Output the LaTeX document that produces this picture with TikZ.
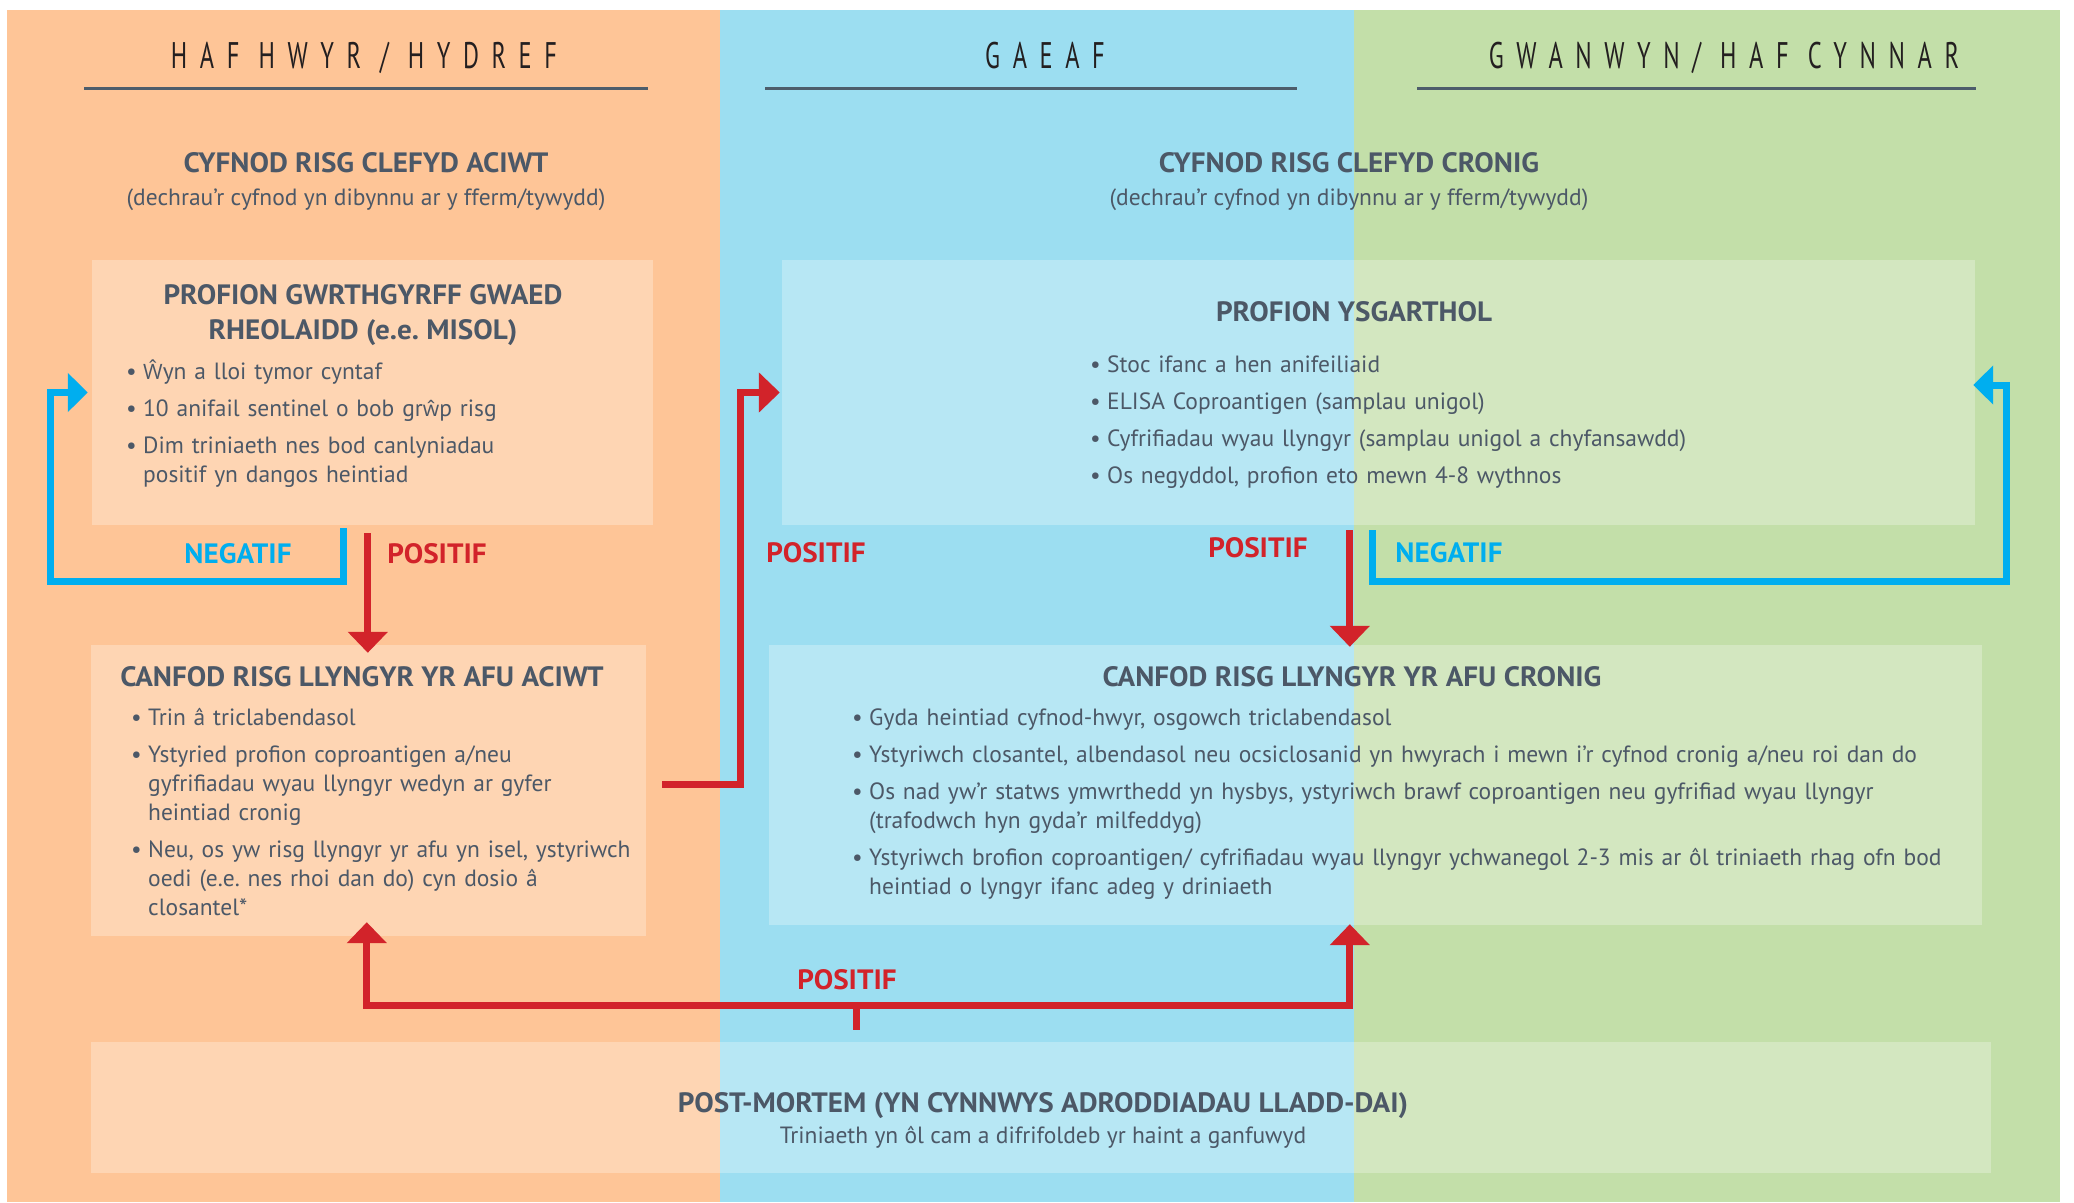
\documentclass[tikz,border=0pt]{standalone}
\usepackage{fontspec}
\usetikzlibrary{arrows.meta,calc}
\newfontfamily\bodyf{PT Sans}
\newfontfamily\wf{Open Sans}[Scale=0.9]
\newfontfamily\ttlf{PT Sans}[FakeStretch=1.04]
\newfontfamily\hdrf{PT Sans}[FakeStretch=0.66,LetterSpace=34]
\definecolor{orbg}{HTML}{FEC597}
\definecolor{blbg}{HTML}{9CDEF1}
\definecolor{grbg}{HTML}{C3DFA9}
\definecolor{txtc}{HTML}{4C5867}
\definecolor{hdrc}{HTML}{231F20}
\definecolor{linec}{HTML}{4D5D6B}
\definecolor{redc}{HTML}{D2232A}
\definecolor{bluec}{HTML}{00AEEF}
\newcommand\bl[1]{\hangindent=17pt\hangafter=1\makebox[17pt][l]{\textbullet}#1\par}
\newcommand\nl{\hfil\break}
\newcommand\blist{\frenchspacing\setlength{\parskip}{8pt}\raggedright}
\tikzset{
  txt/.style={text=txtc, inner sep=0pt, font=\bodyf\frenchspacing\fontsize{23.5}{29}\selectfont},
  lst/.style={txt, anchor=base west, text width=#1},
  ttl/.style={text=txtc, inner sep=0pt, align=center, anchor=base, font=\ttlf\bfseries\frenchspacing\fontsize{28}{35}\selectfont},
  sub/.style={txt, anchor=base},
  hdr/.style={text=hdrc, inner sep=0pt, anchor=base, font=\hdrf\fontsize{37}{40}\selectfont},
  lab/.style={inner sep=0pt, anchor=base, font=\ttlf\bfseries\fontsize{28}{30}\selectfont},
  panel/.style={fill=white, fill opacity=0.28, draw=none, inner sep=0pt},
  hline/.style={draw=linec, line width=3pt},
  redarr/.style={draw=redc, line width=7pt, -{Triangle[width=39pt,length=21pt]}},
  bluearr/.style={draw=bluec, line width=7pt, -{Triangle[width=38pt,length=20pt]}},
}
\begin{document}
\begin{tikzpicture}[x=1pt,y=-1pt]
\useasboundingbox (0,0) rectangle (2074,1202);
% seasonal columns
\fill[orbg] (7,10) rectangle (720,1202);
\fill[blbg] (720,10) rectangle (1354,1202);
\fill[grbg] (1354,10) rectangle (2060,1202);

% season headers
\node[hdr] (h1) at (364,68) {HAF HWYR / HYDREF};
\node[hdr] (h2) at (1045,68) {GAEAF};
\node[hdr] (h3) at (1724,68) {GWANWYN/ HAF CYNNAR};
\draw[hline] (84,88) -- (648,88);
\draw[hline] (765,88) -- (1297,88);
\draw[hline] (1417,88) -- (1976,88);

% period titles
\node[ttl] (p1) at (366,172) {CYFNOD RISG CLEFYD ACIWT};
\node[sub] (p1s) at (366,205) {(dechrau’r cyfnod yn dibynnu ar y fferm/tywydd)};
\node[ttl] (p2) at (1349,172) {CYFNOD RISG CLEFYD CRONIG};
\node[sub] (p2s) at (1349,205) {(dechrau’r cyfnod yn dibynnu ar y fferm/tywydd)};

% panels
\node[panel, minimum width=561pt, minimum height=265pt] (box1) at (372.5,392.5) {};
\node[panel, minimum width=1193pt, minimum height=265pt] (box2) at (1378.5,392.5) {};
\node[panel, minimum width=555pt, minimum height=291pt] (box3) at (368.5,790.5) {};
\node[panel, minimum width=1213pt, minimum height=280pt] (box4) at (1375.5,785) {};
\node[panel, minimum width=1900pt, minimum height=131pt] (box5) at (1041,1107.5) {};

% box 1
\node[ttl] (t1) at (363,339) {PROFION GWRTHGYRFF GWAED\\RHEOLAIDD (e.e. MISOL)};
\node[lst=520pt] (l1) at (126,379) {\blist%
\bl{{\wf Ŵ}yn a lloi tymor cyntaf}
\bl{10 anifail sentinel o bob gr{\wf ŵ}p risg}
\bl{Dim triniaeth nes bod canlyniadau\nl positif yn dangos heintiad}};

% box 2
\node[ttl] (t2) at (1354,321) {PROFION YSGARTHOL};
\node[lst=860pt] (l2) at (1090,372) {\blist%
\bl{Stoc ifanc a hen anifeiliaid}
\bl{ELISA Coproantigen (samplau unigol)}
\bl{Cyfrifiadau wyau llyngyr (samplau unigol a chyfansawdd)}
\bl{Os negyddol, profion eto mewn 4-8 wythnos}};

% box 3
\node[ttl] (t3) at (362,686) {CANFOD RISG LLYNGYR YR AFU ACIWT};
\node[lst=540pt] (l3) at (131,725) {\blist%
\bl{Trin â triclabendasol}
\bl{Ystyried profion coproantigen a/neu\nl gyfrifiadau wyau llyngyr wedyn ar gyfer\nl heintiad cronig}
\bl{Neu, os yw risg llyngyr yr afu yn isel, ystyriwch\nl oedi (e.e. nes rhoi dan do) cyn dosio â\nl closantel*}};

% box 4
\node[ttl] (t4) at (1352,686) {CANFOD RISG LLYNGYR YR AFU CRONIG};
\node[lst=1120pt] (l4) at (852,725) {\blist%
\bl{Gyda heintiad cyfnod-hwyr, osgowch triclabendasol}
\bl{Ystyriwch closantel, albendasol neu ocsiclosanid yn hwyrach i mewn i’r cyfnod cronig a/neu roi dan do}
\bl{Os nad yw’r statws ymwrthedd yn hysbys, ystyriwch brawf coproantigen neu gyfrifiad wyau llyngyr\nl (trafodwch hyn gyda’r milfeddyg)}
\bl{Ystyriwch brofion coproantigen/ cyfrifiadau wyau llyngyr ychwanegol 2-3 mis ar ôl triniaeth rhag ofn bod\nl heintiad o lyngyr ifanc adeg y driniaeth}};

% box 5
\node[ttl] (t5) at (1043,1112) {POST-MORTEM (YN CYNNWYS ADRODDIADAU LLADD-DAI)};
\node[sub] (t5s) at (1043,1143) {Triniaeth yn ôl cam a difrifoldeb yr haint a ganfuwyd};

% connectors
\draw[bluearr] ($(box1.south west)+(252,3)$) |- ($(box1.south west)+(-41,56)$) |- ($(box1.west)+(-4,0)$);
\draw[redarr] ($(box1.south west)+(276,8)$) -- ($(box3.north west)+(277,8)$);
\draw[redarr] ($(box3.east)+(16,-6.5)$) -| ($(box2.west)+(-41,0)$) -- ($(box2.west)+(-2,0)$);
\draw[redarr] ($(box2.south west)+(568,5)$) -- ($(box4.north west)+(581,2)$);
\draw[bluearr] ($(box2.south west)+(591,5)$) |- ($(box2.east)+(31,188.5)$) |- ($(box2.east)+(-2,-7.5)$);
\coordinate (junc) at ($(box5.north west)+(766,-36)$);
\draw[redc, line width=7pt] ($(box5.north west)+(766,-12)$) -- (junc);
\draw[redarr, {Triangle[width=39pt,length=21pt]}-{Triangle[width=39pt,length=21pt]}]
  ($(box3.south west)+(276,-14)$) |- ($(box5.north west)+(1259,-36)$) -- ($(box4.south west)+(581,-1)$);

% labels
\node[lab, text=bluec] (n1) at (238,563) {NEGATIF};
\node[lab, text=redc] (q1) at (437,563) {POSITIF};
\node[lab, text=redc] (q2) at (816,562) {POSITIF};
\node[lab, text=redc] (q3) at (1258,557) {POSITIF};
\node[lab, text=bluec] (n2) at (1449,562) {NEGATIF};
\node[lab, text=redc] (q4) at (847,989) {POSITIF};
\end{tikzpicture}
\end{document}
